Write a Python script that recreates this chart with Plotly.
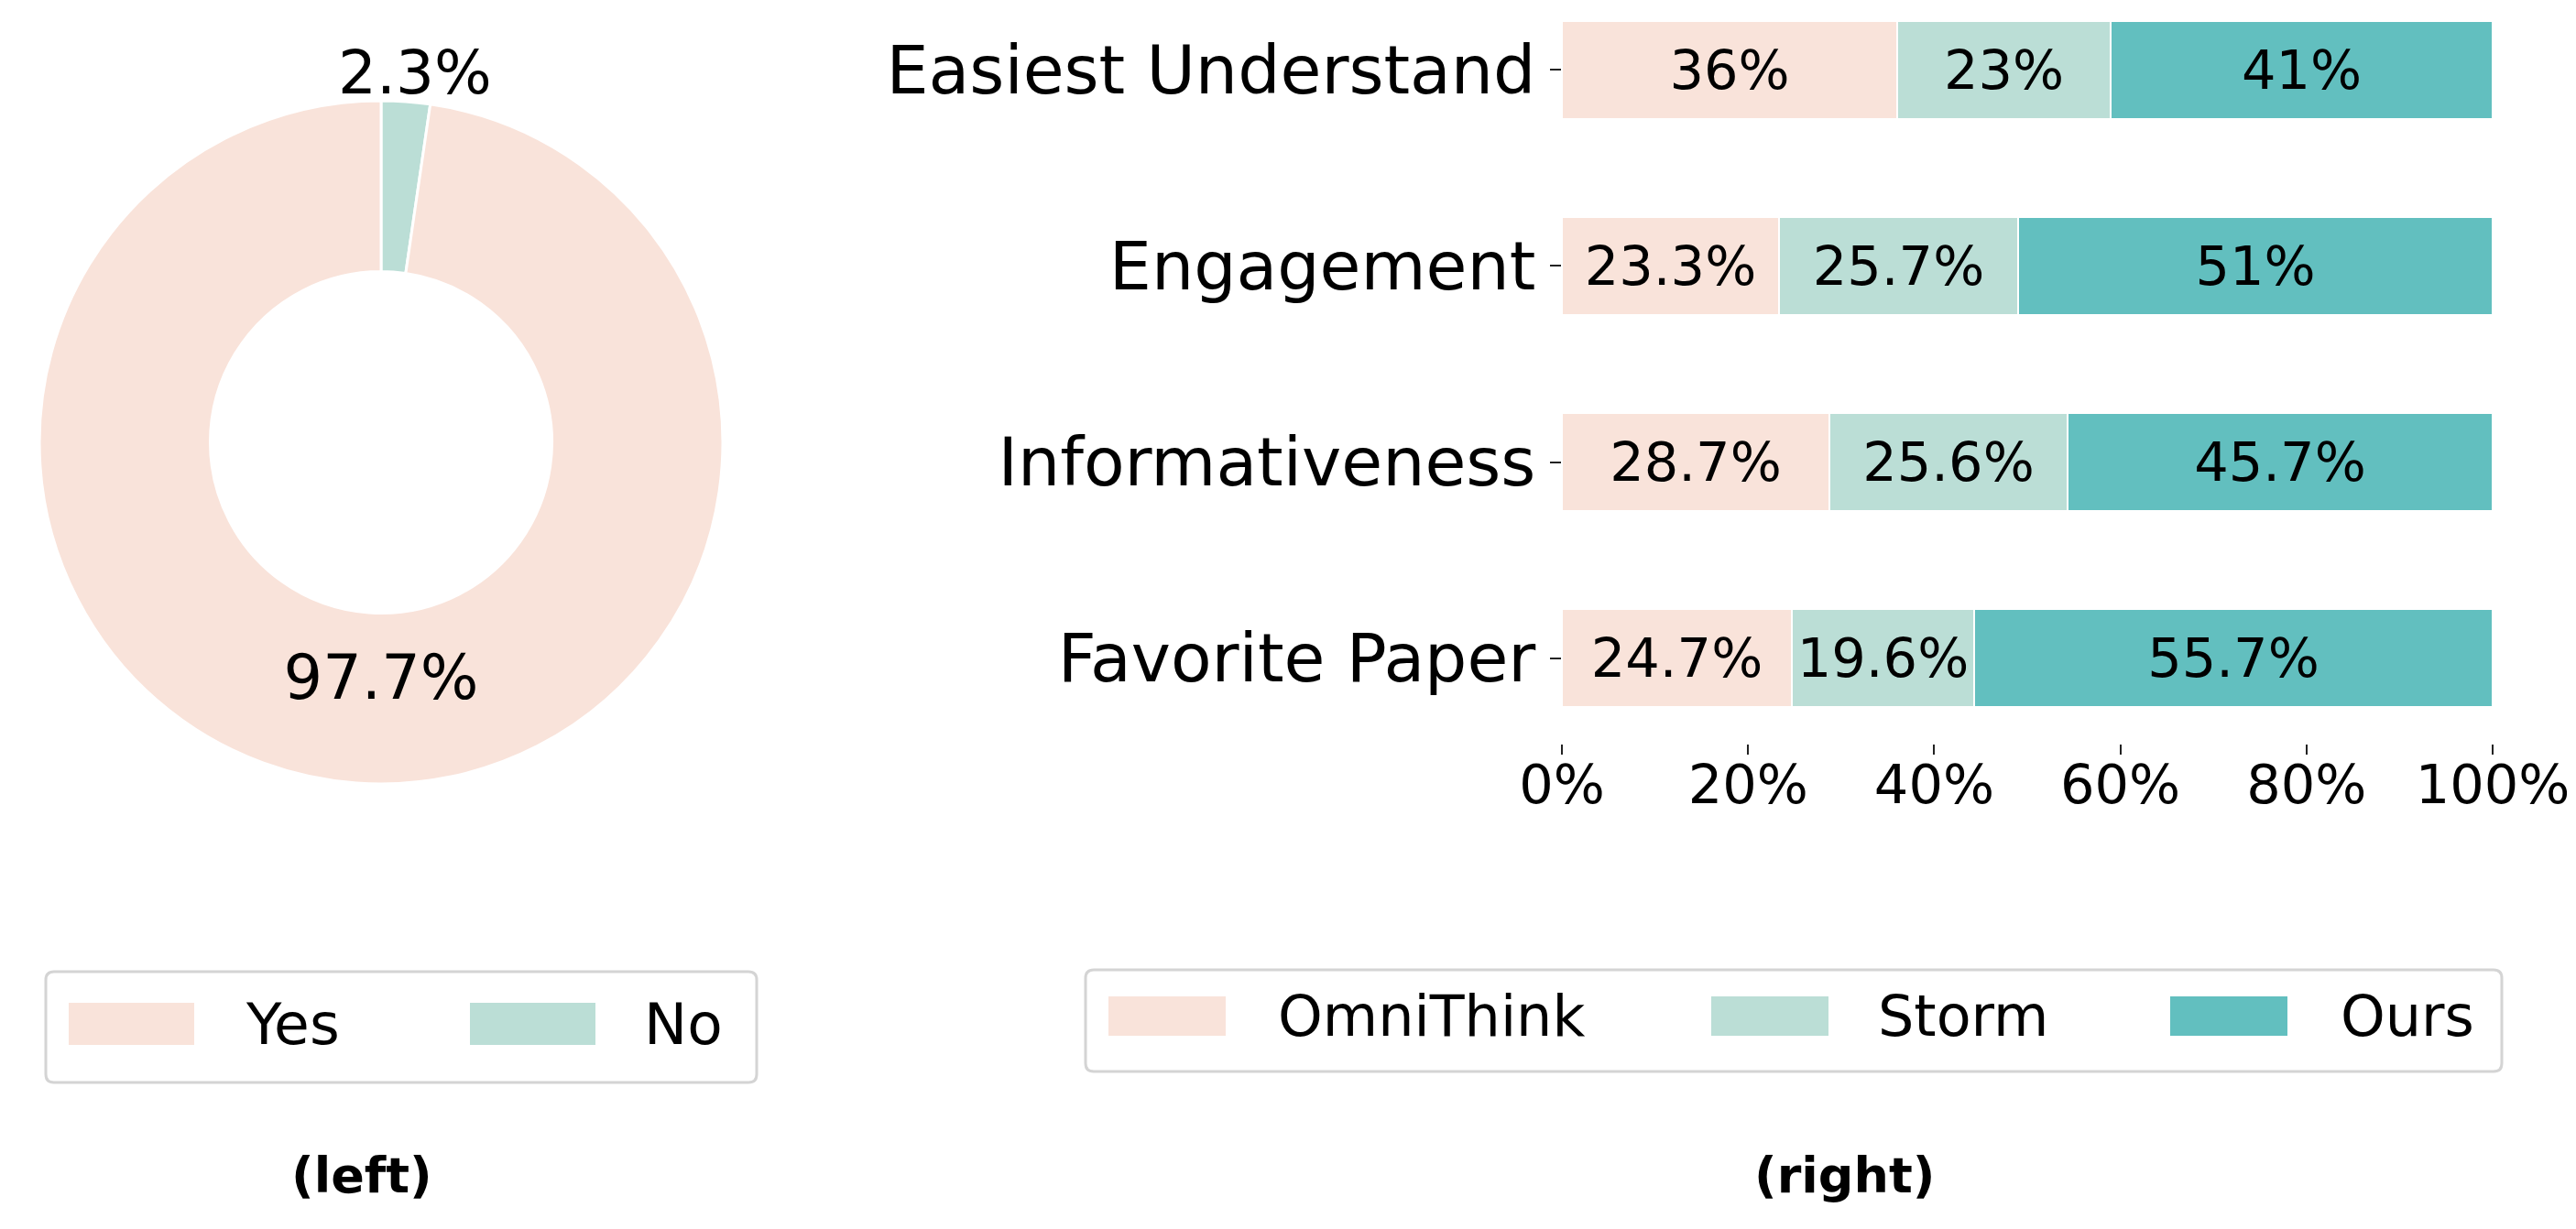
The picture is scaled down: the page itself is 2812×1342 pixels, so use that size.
import math
import plotly.graph_objects as go

W, H = 2812, 1342
OFF = 8                      # default page margin of the html body
FW, FH = W - OFF, H - OFF    # figure size

# ---------------- data ----------------
pie_labels = ["Yes", "No"]
pie_values = [97.7, 2.3]

categories = ["Easiest Understand", "Engagement", "Informativeness", "Favorite Paper"]
series_names = ["OmniThink", "Storm", "Ours"]
omnithink = [36, 23.3, 28.7, 24.7]
storm = [23, 25.7, 25.6, 19.6]
ours = [41, 51, 45.7, 55.7]

x_tickvals = [0, 20, 40, 60, 80, 100]
x_ticktext = ["0%", "20%", "40%", "60%", "80%", "100%"]

panel_titles = ["(left)", "(right)"]

# ---------------- style ----------------
C_PEACH = "#F9E3DA"
C_MINT = "#BBDED6"
C_TEAL = "#62BFBF"
FONT = "DejaVu Sans"


def px(x):
    return (x - OFF) / FW


def py(y):
    return 1 - (y - OFF) / FH


fig = go.Figure()

# ---- donut (No drawn first, clockwise from 12 o'clock) ----
PIE_CX, PIE_CY, PIE_R = 416, 483, 373
fig.add_trace(go.Pie(
    labels=pie_labels[::-1], values=pie_values[::-1], sort=False,
    direction="clockwise", rotation=0, hole=0.5,
    marker=dict(colors=[C_MINT, C_PEACH], line=dict(color="white", width=3)),
    texttemplate="%{percent:.1%}",
    textposition=["none", "inside"],
    insidetextorientation="horizontal",
    textfont=dict(family=FONT, size=67, color="black"),
    domain=dict(x=[px(PIE_CX - PIE_R), px(PIE_CX + PIE_R)],
                y=[py(PIE_CY + PIE_R), py(PIE_CY - PIE_R)]),
    automargin=False,
    showlegend=False, hoverinfo="label+percent",
))

# ---- stacked bars ----
series_vals = [omnithink, storm, ours]
series_cols = [C_PEACH, C_MINT, C_TEAL]
for name, vals, col in zip(series_names, series_vals, series_cols):
    fig.add_trace(go.Bar(
        y=categories, x=vals, name=name, orientation="h", width=0.5,
        marker=dict(color=col, line=dict(color="white", width=2)),
        text=[f"{v:g}%" for v in vals],
        textposition="inside", insidetextanchor="middle", constraintext="none",
        textfont=dict(family=FONT, size=59, color="black"),
        showlegend=False, xaxis="x", yaxis="y",
    ))

fig.update_layout(
    width=FW, height=FH,
    margin=dict(l=0, r=0, t=0, b=0, autoexpand=False),
    paper_bgcolor="white", plot_bgcolor="white",
    barmode="stack", bargap=0, showlegend=False,
    font=dict(family=FONT, color="black"),
    xaxis=dict(
        domain=[px(1705), px(2721)], range=[0, 100],
        tickvals=x_tickvals, ticktext=x_ticktext,
        ticks="outside", ticklen=11, tickwidth=1.5, tickcolor="#222",
        tickfont=dict(family=FONT, size=59, color="black"),
        showgrid=False, zeroline=False, showline=False, automargin=False,
        ticklabelstandoff=-18, anchor="y", fixedrange=True,
    ),
    yaxis=dict(
        domain=[py(812), py(OFF)], range=[3.435, -0.318],
        type="category", categoryorder="array", categoryarray=categories,
        ticks="outside", ticklen=12, tickwidth=1.5, tickcolor="#222",
        tickfont=dict(family=FONT, size=73, color="black"),
        showgrid=False, zeroline=False, showline=False, automargin=False,
        ticklabelstandoff=1, anchor="x", fixedrange=True,
    ),
)

shapes = []
annotations = []

# outside percentage label of the small slice, placed along its mid-angle
total = sum(pie_values)
no_share = pie_values[1] / total
mid = 2 * math.pi * no_share / 2
lab_r = 1.085 * PIE_R
annotations.append(dict(
    xref="paper", yref="paper",
    x=px(PIE_CX + lab_r * math.sin(mid)), y=py(PIE_CY - lab_r * math.cos(mid)),
    text=f"{100 * no_share:.1f}%", showarrow=False,
    xanchor="center", yanchor="middle", xshift=8,
    font=dict(family=FONT, size=66, color="black")))


# ---------------- custom legends ----------------
def rounded_box(x0, y0, x1, y1, r=9):
    X0, X1 = px(x0), px(x1)
    Y0, Y1 = py(y0), py(y1)
    rx, ry = r / FW, r / FH
    return (f"M{X0+rx},{Y0} L{X1-rx},{Y0} Q{X1},{Y0} {X1},{Y0-ry} "
            f"L{X1},{Y1+ry} Q{X1},{Y1} {X1-rx},{Y1} L{X0+rx},{Y1} "
            f"Q{X0},{Y1} {X0},{Y1+ry} L{X0},{Y0-ry} Q{X0},{Y0} {X0+rx},{Y0} Z")


def legend(box, names, colors, sw_x, sw_w, sw_y0, sw_y1, txt_x, fsize):
    shapes.append(dict(type="path", xref="paper", yref="paper",
                       path=rounded_box(*box), line=dict(color="#d4d4d4", width=3),
                       fillcolor="white", layer="above"))
    for n, c, sx, tx in zip(names, colors, sw_x, txt_x):
        shapes.append(dict(type="rect", xref="paper", yref="paper",
                           x0=px(sx), x1=px(sx + sw_w), y0=py(sw_y1), y1=py(sw_y0),
                           fillcolor=c, line=dict(width=0), layer="above"))
        annotations.append(dict(xref="paper", yref="paper", x=px(tx),
                                y=py((sw_y0 + sw_y1) / 2), text=n, showarrow=False,
                                xanchor="left", yanchor="middle",
                                font=dict(family=FONT, size=fsize, color="black")))


legend((50, 1061, 826, 1182), pie_labels, [C_PEACH, C_MINT],
       [75, 513], 137, 1095, 1141, [266, 701], 63)
legend((1185, 1059, 2731, 1170), series_names, series_cols,
       [1210, 1868, 2369], 128, 1088, 1131, [1393, 2048, 2553], 62)

# panel titles
for t, cx in zip(panel_titles, [395, 2013]):
    annotations.append(dict(xref="paper", yref="paper", x=px(cx), y=py(1283),
                            text=f"<b>{t}</b>", showarrow=False,
                            xanchor="center", yanchor="middle",
                            font=dict(family=FONT, size=54, color="black")))

fig.update_layout(shapes=shapes, annotations=annotations)

fig.write_html("out.html")
